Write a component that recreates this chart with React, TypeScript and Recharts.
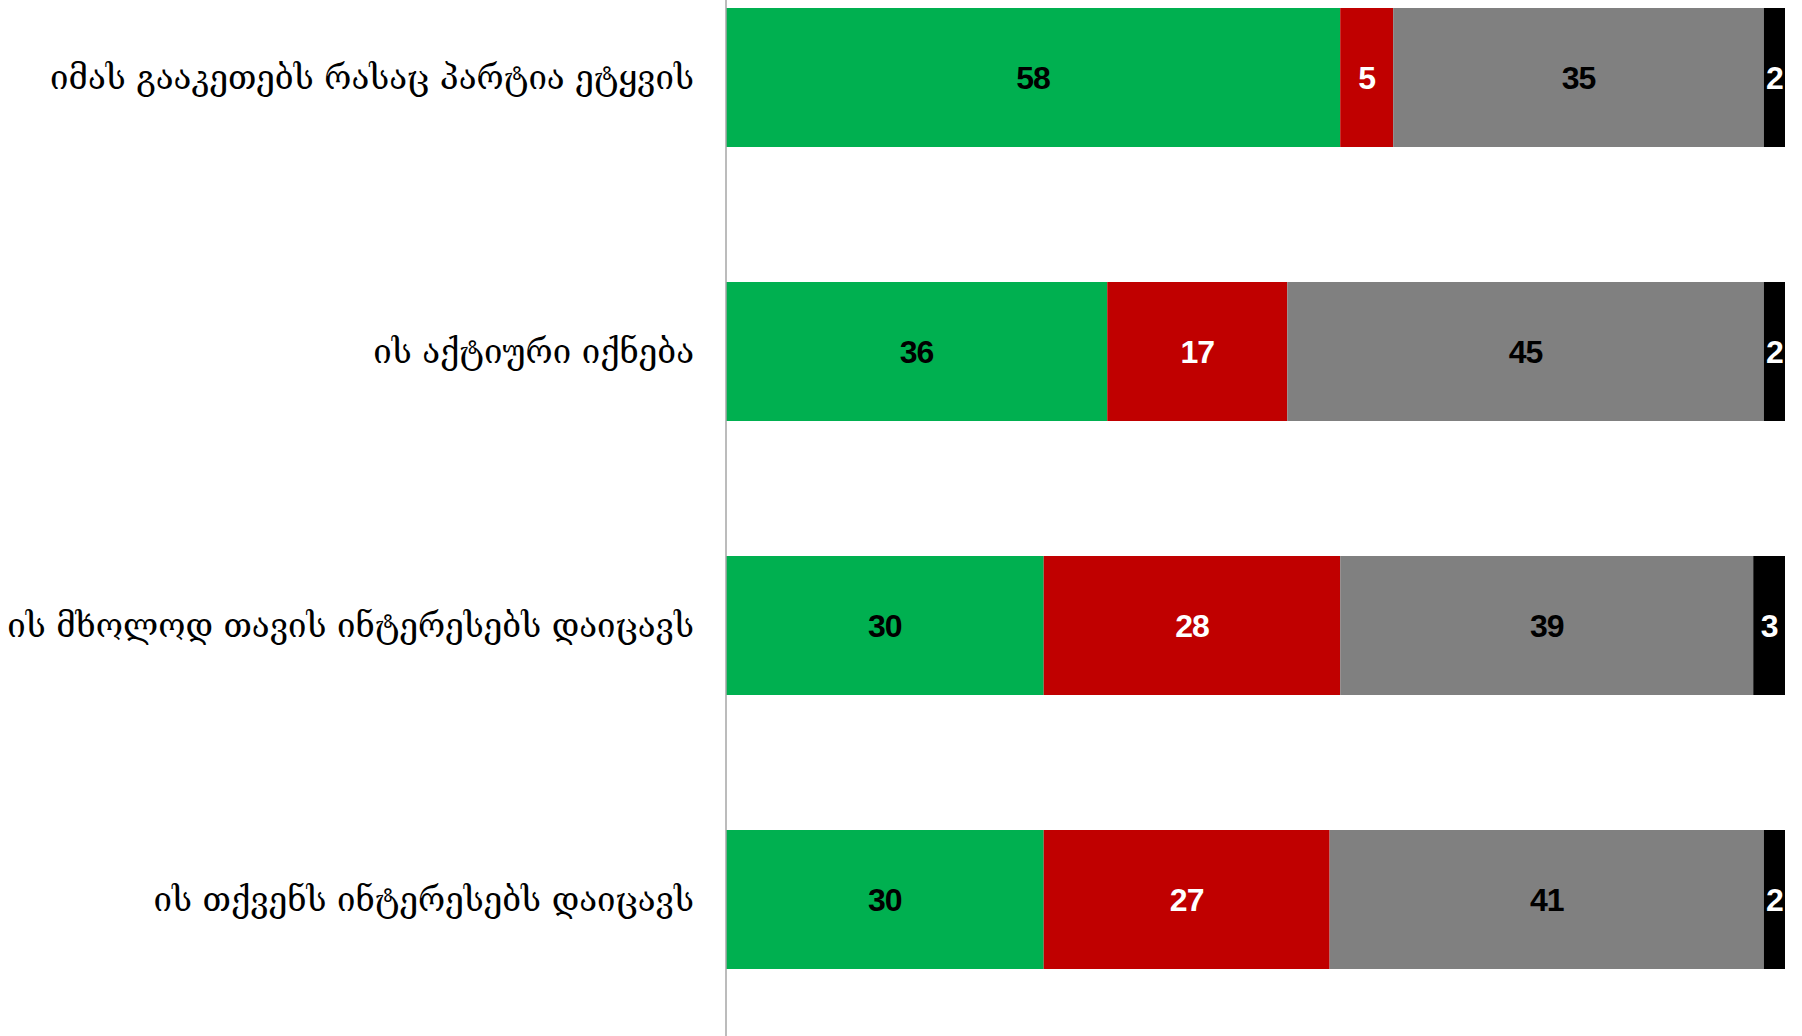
import { BarChart, Bar, XAxis, YAxis, LabelList } from 'recharts';

const categories = [
  'იმას გააკეთებს რასაც პარტია ეტყვის',
  'ის აქტიური იქნება',
  'ის მხოლოდ თავის ინტერესებს დაიცავს',
  'ის თქვენს ინტერესებს დაიცავს',
];
const agree = [58, 36, 30, 30];
const disagree = [5, 17, 28, 27];
const dontKnow = [35, 45, 39, 41];
const refused = [2, 2, 3, 2];

const data = categories.map((name, i) => ({
  name,
  agree: agree[i],
  disagree: disagree[i],
  dontKnow: dontKnow[i],
  refused: refused[i],
}));

const labelFont = {
  fontFamily: '"Liberation Sans Narrow", "Liberation Sans", sans-serif',
  fontWeight: 700,
  fontSize: 32,
  letterSpacing: -1,
};

export default function App() {
  return (
    <div
      style={{
        position: 'absolute',
        left: 0,
        top: 0,
        width: 1802,
        height: 1036,
        overflow: 'hidden',
        background: '#fff',
      }}
    >
      {/* plot area runs past the top edge, like the cropped original */}
      <div style={{ position: 'absolute', left: 0, top: -60 }}>
        <BarChart
          width={1802}
          height={1096}
          data={data}
          layout="vertical"
          margin={{ top: 0, right: 17, bottom: 0, left: 0 }}
          barSize={139}
        >
          <XAxis type="number" domain={[0, 100]} hide />
          <YAxis
            type="category"
            dataKey="name"
            width={726}
            tickLine={false}
            tickSize={0}
            tickMargin={32}
            axisLine={{ stroke: '#a6a6a6', strokeWidth: 1.5 }}
            tick={{ fill: '#000', fontSize: 33, fontFamily: '"DejaVu Serif", serif' }}
          />
          <Bar dataKey="agree" stackId="a" fill="#00B050" isAnimationActive={false}>
            <LabelList dataKey="agree" position="center" fill="#000" style={labelFont} />
          </Bar>
          <Bar dataKey="disagree" stackId="a" fill="#C00000" isAnimationActive={false}>
            <LabelList dataKey="disagree" position="center" fill="#fff" style={labelFont} />
          </Bar>
          <Bar dataKey="dontKnow" stackId="a" fill="#808080" isAnimationActive={false}>
            <LabelList dataKey="dontKnow" position="center" fill="#000" style={labelFont} />
          </Bar>
          <Bar dataKey="refused" stackId="a" fill="#000000" isAnimationActive={false}>
            <LabelList dataKey="refused" position="center" fill="#fff" style={labelFont} />
          </Bar>
        </BarChart>
      </div>
    </div>
  );
}
